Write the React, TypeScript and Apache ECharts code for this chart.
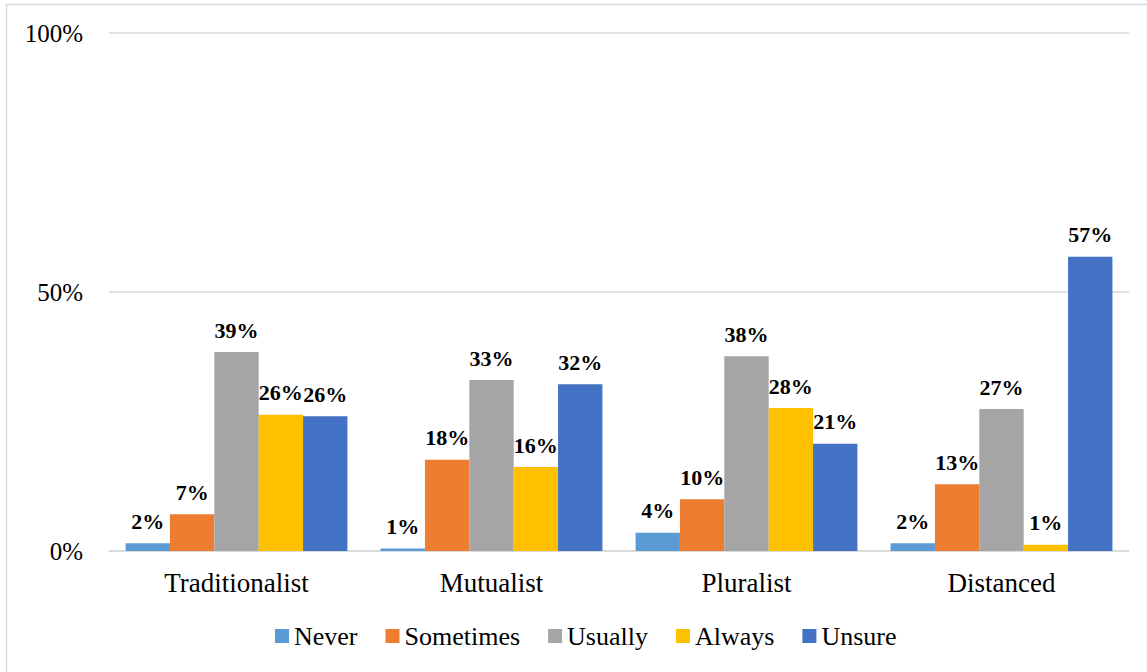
import React, { useEffect, useRef } from "react";
import * as echarts from "echarts";

const categories = ["Traditionalist", "Mutualist", "Pluralist", "Distanced"];
const seriesNames = ["Never", "Sometimes", "Usually", "Always", "Unsure"];
const never = [1.5, 0.5, 3.5, 1.5];
const sometimes = [7.1, 17.6, 10.0, 12.9];
const usually = [38.4, 33.0, 37.6, 27.4];
const always = [26.3, 16.2, 27.6, 1.2];
const unsure = [26.0, 32.2, 20.7, 56.8];
const labels = [
  ["2%", "1%", "4%", "2%"],
  ["7%", "18%", "10%", "13%"],
  ["39%", "33%", "38%", "27%"],
  ["26%", "16%", "28%", "1%"],
  ["26%", "32%", "21%", "57%"],
];
const colors = ["#5B9BD5", "#ED7D31", "#A5A5A5", "#FFC000", "#4472C4"];
const yTicks = [0, 50, 100];

export default function App() {
  const ref = useRef<HTMLDivElement>(null);
  useEffect(() => {
    if (!ref.current) return;
    const chart = echarts.init(ref.current, undefined, { renderer: "svg" });
    const data = [never, sometimes, usually, always, unsure];
    const font = "'Times New Roman', 'Liberation Serif', serif";
    chart.setOption({
      animation: false,
      textStyle: { fontFamily: font },
      graphic: [
        {
          type: "rect",
          shape: { x: 6.5, y: 4.5, width: 1200, height: 700 },
          style: { fill: "none", stroke: "#d9d9d9", lineWidth: 1.5 },
          silent: true,
        },
      ],
      grid: { left: 109, right: 18, top: 33, bottom: 121, containLabel: false },
      legend: {
        data: seriesNames,
        top: 618,
        left: 270,
        itemWidth: 14,
        itemHeight: 14,
        itemGap: 28,
        icon: "rect",
        textStyle: { fontFamily: font, fontSize: 26, color: "#000" },
      },
      xAxis: {
        type: "category",
        data: categories,
        axisLine: { lineStyle: { color: "#d9d9d9", width: 1.5 } },
        axisTick: { show: false },
        axisLabel: { fontFamily: font, fontSize: 27, color: "#000", margin: 18 },
      },
      yAxis: {
        type: "value",
        min: 0,
        max: 100,
        interval: 50,
        axisLine: { show: false },
        axisTick: { show: false },
        splitLine: { lineStyle: { color: "#d9d9d9", width: 1.5 } },
        axisLabel: {
          fontFamily: font,
          fontSize: 25,
          color: "#000",
          margin: 26,
          formatter: (v: number) => (yTicks.includes(v) ? v + "%" : ""),
        },
      },
      series: seriesNames.map((name, i) => ({
        name,
        type: "bar",
        data: data[i],
        barGap: "0%",
        barCategoryGap: "13%",
        itemStyle: { color: colors[i] },
        label: {
          show: true,
          position: "top",
          distance: 11,
          fontFamily: font,
          fontSize: 22,
          fontWeight: "bold",
          color: "#000",
          formatter: (p: any) => labels[i][p.dataIndex],
        },
      })),
    });
    return () => chart.dispose();
  }, []);
  return (
    <div
      ref={ref}
      style={{ position: "absolute", left: 0, top: 0, width: 1147, height: 672, background: "#fff" }}
    />
  );
}
